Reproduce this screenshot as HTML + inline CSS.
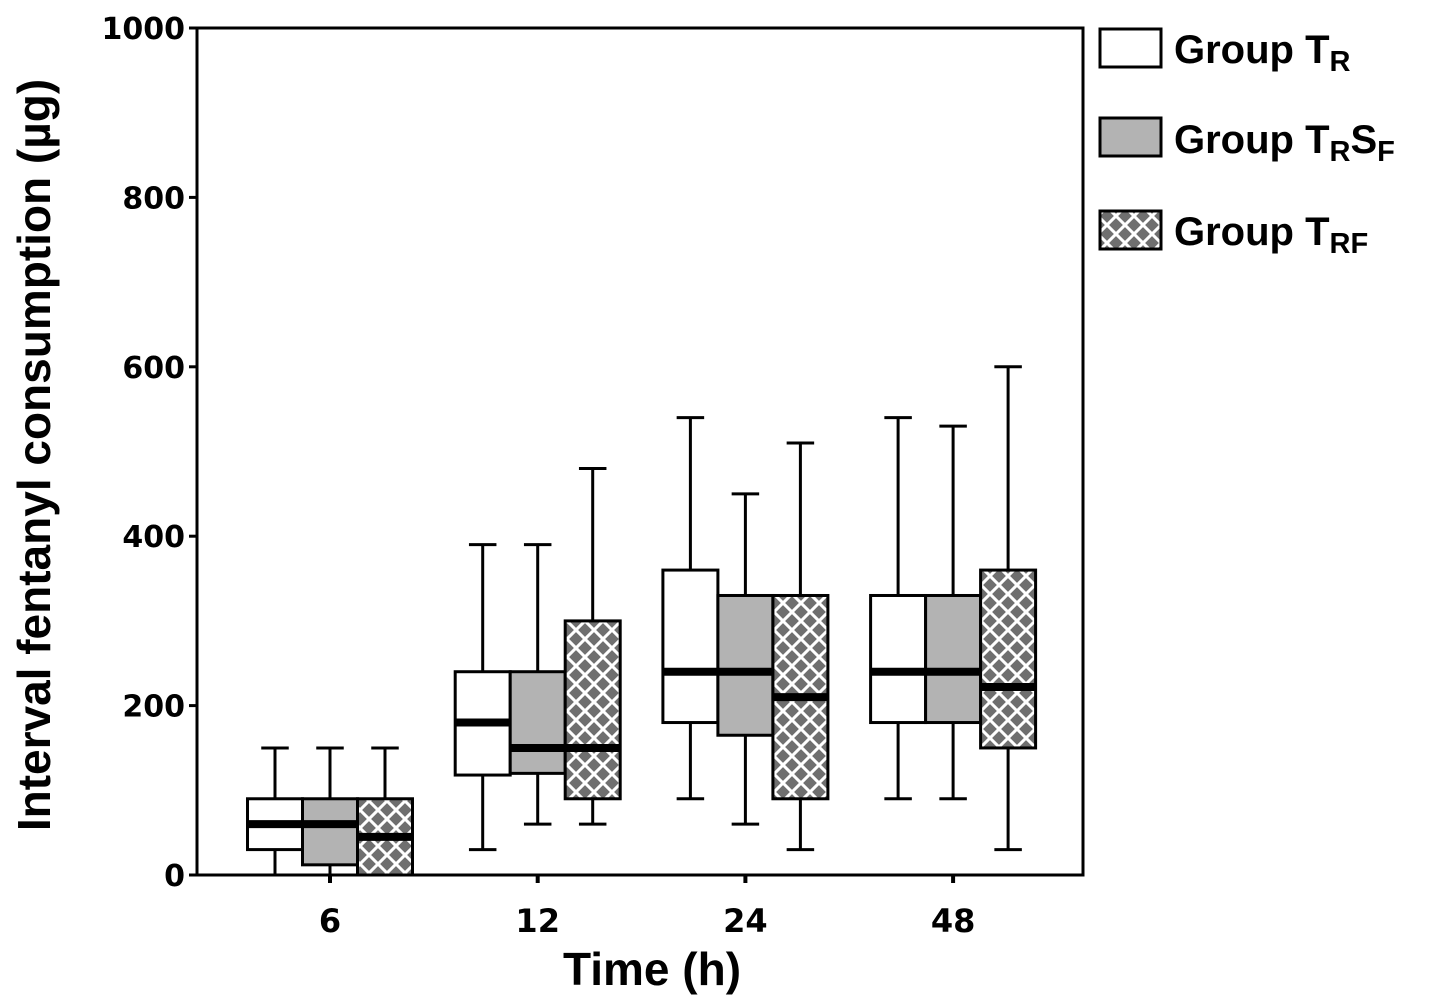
<!DOCTYPE html>
<html><head><meta charset="utf-8"><style>
html,body{margin:0;padding:0;background:#fff;}
svg{display:block;}
text{font-family:"DejaVu Sans","Liberation Sans",sans-serif;font-weight:bold;fill:#000;}
.t{font-family:"Liberation Sans",sans-serif;}
</style></head><body>
<svg id="chart" width="1441" height="1007" viewBox="0 0 1441 1007">
<defs>
<pattern id="hatch" patternUnits="userSpaceOnUse" width="18" height="18">
<rect width="18" height="18" fill="#6f6f6f"/>
<path d="M0,0 L18,18 M18,0 L0,18" stroke="#fff" stroke-width="3"/>
</pattern>
</defs>
<g id="plot"></g>
<g>
<rect x="1100" y="29" width="61" height="38" fill="#fff" stroke="#000" stroke-width="3"/>
<text class="t" x="1174" y="63" font-size="40">Group T<tspan font-size="29" dy="8">R</tspan></text>
<rect x="1100" y="118" width="61" height="38" fill="#b3b3b3" stroke="#000" stroke-width="3"/>
<text class="t" x="1174" y="153" font-size="40">Group T<tspan font-size="29" dy="8">R</tspan><tspan dy="-8">S</tspan><tspan font-size="29" dy="8">F</tspan></text>
<rect x="1100" y="211" width="61" height="38" fill="url(#hatch)" stroke="#000" stroke-width="3"/>
<text class="t" x="1174" y="245" font-size="40">Group T<tspan font-size="29" dy="8">RF</tspan></text>
</g>
<text class="t" x="652" y="985" font-size="46" text-anchor="middle">Time (h)</text>
<text class="t" transform="translate(50,455) rotate(-90)" font-size="46" text-anchor="middle">Interval fentanyl consumption (µg)</text>
</svg>
<script>
const categories = ["6","12","24","48"];
const groups = ["tr","trsf","trf"];
const yTicks = [0,200,400,600,800,1000];
// [low, q1, median, q3, high] per category
const seriesTR   = [[0,30,60,90,150],[30,118,180,240,390],[90,180,240,360,540],[90,180,240,330,540]];
const seriesTRSF = [[0,12,60,90,150],[60,120,150,240,390],[60,165,240,330,450],[90,180,240,330,530]];
const seriesTRF  = [[0,0,45,90,150],[60,90,150,300,480],[30,90,210,330,510],[30,150,222,360,600]];

const NS="http://www.w3.org/2000/svg";
const X0=197,X1=1083,Y0=875,Y1=28;
const y=v=>Y0-(v/1000)*(Y0-Y1);
const xc=i=>330+i*207.7;
const BW=55;
const fills=["#fff","#b3b3b3","url(#hatch)"];
const plot=document.getElementById("plot");
function mk(tag,attrs){const e=document.createElementNS(NS,tag);for(const k in attrs)e.setAttribute(k,attrs[k]);plot.appendChild(e);return e;}

let a=mk("rect",{x:X0,y:Y1,width:X1-X0,height:Y0-Y1,fill:"none",stroke:"#000","stroke-width":3});


yTicks.forEach(v=>{
  let l=mk("line",{x1:X0-8,x2:X0,y1:y(v),y2:y(v),stroke:"#000","stroke-width":3});
  
  
  let t=mk("text",{x:X0-12,y:y(v)+11,"font-size":30,"text-anchor":"end"});
  t.textContent=v;
  
  
});
categories.forEach((c,i)=>{
  let l=mk("line",{x1:xc(i),x2:xc(i),y1:Y0,y2:Y0+8,stroke:"#000","stroke-width":4});
  
  
  let t=mk("text",{x:xc(i),y:Y0+57,"font-size":32,"text-anchor":"middle"});
  t.textContent=c;
  
  
});
const all=[seriesTR,seriesTRSF,seriesTRF];
all.forEach((ser,g)=>{
  ser.forEach((d,i)=>{
    const cx=xc(i)+(g-1)*BW;
    const [lo,q1,md,q3,hi]=d;
    let w=mk("line",{x1:cx,x2:cx,y1:y(hi),y2:y(lo),stroke:"#000","stroke-width":3});
    
    
    let cap1=mk("line",{x1:cx-BW/4,x2:cx+BW/4,y1:y(hi),y2:y(hi),stroke:"#000","stroke-width":3});
    
    
    let cap2=mk("line",{x1:cx-BW/4,x2:cx+BW/4,y1:y(lo),y2:y(lo),stroke:"#000","stroke-width":3});
    
    
    let b=mk("rect",{x:cx-BW/2,y:y(q3),width:BW,height:Math.max(0,y(q1)-y(q3)),fill:fills[g],stroke:"#000","stroke-width":3});
    
    
    let m=mk("line",{x1:cx-BW/2,x2:cx+BW/2,y1:y(md),y2:y(md),stroke:"#000","stroke-width":8});
    
    
  });
});
</script>
</body></html>
